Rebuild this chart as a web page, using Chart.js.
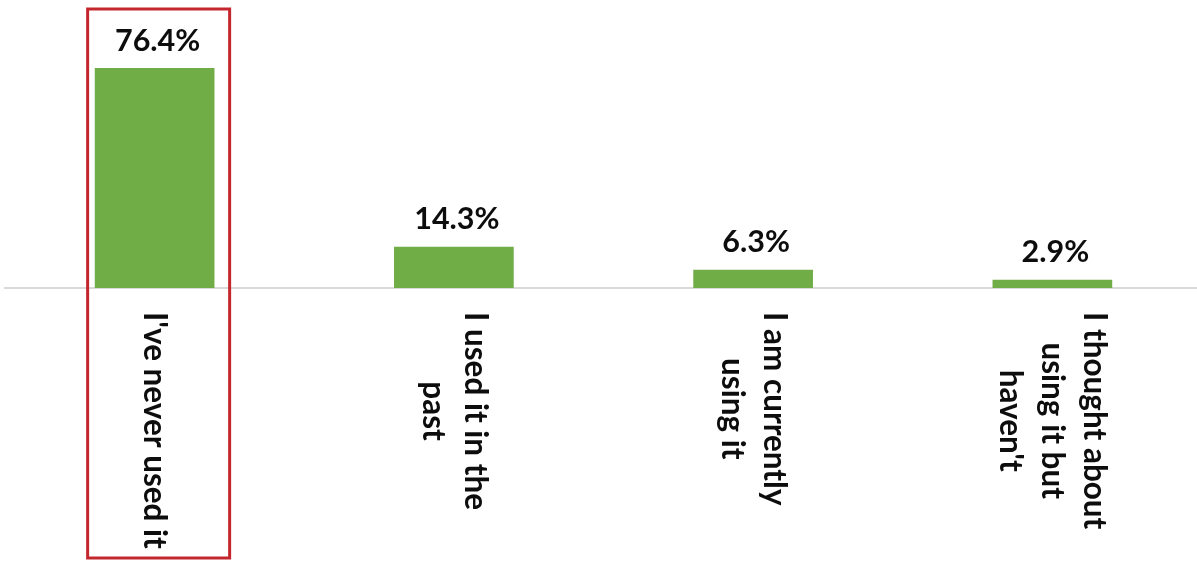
<!DOCTYPE html>
<html>
<head>
<meta charset="utf-8">
<title>Usage survey</title>
<script src="https://cdn.jsdelivr.net/npm/chart.js@4/dist/chart.umd.min.js"></script>
<style>
  html, body { margin: 0; padding: 0; background: #fff; overflow: hidden; }
  #wrap { position: relative; width: 1202px; height: 562px; }
</style>
</head>
<body>
<div id="wrap"><canvas id="usageChart"></canvas></div>
<script>
// Survey answers (each category is split into the lines shown under the bar)
const categories = [
  ["I've never used it"],
  ["I used it in the", "past"],
  ["I am currently", "using it"],
  ["I thought about", "using it but", "haven't"],
];
const shares = [76.4, 14.3, 6.3, 2.9];

// Which answer gets the red outline
const HIGHLIGHT = 0;

const BAR_COLOR = "#70ad47";
const TEXT_COLOR = "#0d0d0d";
const LABEL_FONT = "bold 31.5px Lato";
const VALUE_FONT = "bold 30.5px Lato";

// Percent values above each bar
const valueLabels = {
  id: "valueLabels",
  afterDatasetsDraw(chart) {
    const { ctx } = chart;
    const meta = chart.getDatasetMeta(0);
    ctx.save();
    ctx.font = VALUE_FONT;
    ctx.fillStyle = TEXT_COLOR;
    ctx.textAlign = "center";
    ctx.textBaseline = "bottom";
    meta.data.forEach((bar, i) => {
      ctx.fillText(shares[i].toFixed(1) + "%", bar.x + 3, bar.y - 12);
    });
    ctx.restore();
  },
};

// Category names, rotated to read top to bottom, lines centred on each other
const categoryLabels = {
  id: "categoryLabels",
  afterDraw(chart) {
    const { ctx, chartArea } = chart;
    const xScale = chart.scales.x;
    const lineHeight = 42;
    const top = chartArea.bottom + 24;
    ctx.save();
    ctx.font = LABEL_FONT;
    ctx.fillStyle = TEXT_COLOR;
    ctx.textAlign = "center";
    ctx.textBaseline = "middle";
    categories.forEach((lines, i) => {
      const x = xScale.getPixelForValue(i);
      const longest = Math.max(...lines.map((l) => ctx.measureText(l).width));
      ctx.save();
      ctx.translate(x, top);
      ctx.rotate(Math.PI / 2);
      lines.forEach((line, j) => {
        const offset = (j - (lines.length - 1) / 2) * lineHeight;
        ctx.fillText(line, longest / 2, offset);
      });
      ctx.restore();
    });
    ctx.restore();
  },
};

// Red box around the highlighted answer
const highlightBox = {
  id: "highlightBox",
  afterDraw(chart) {
    const { ctx } = chart;
    const x = chart.scales.x.getPixelForValue(HIGHLIGHT);
    ctx.save();
    ctx.strokeStyle = "#c4262e";
    ctx.lineWidth = 3;
    ctx.strokeRect(x - 67, 9, 142, 549);
    ctx.restore();
  },
};

new Chart(document.getElementById("usageChart"), {
  type: "bar",
  data: {
    labels: categories.map((c) => c.join(" ")),
    datasets: [
      {
        data: shares,
        backgroundColor: BAR_COLOR,
        borderWidth: 0,
        barPercentage: 0.4,
        categoryPercentage: 1,
      },
    ],
  },
  options: {
    responsive: true,
    maintainAspectRatio: false,
    animation: false,
    layout: {
      padding: { left: 5, right: 0, top: 0, bottom: 274 },
    },
    plugins: {
      legend: { display: false },
      tooltip: { enabled: false },
    },
    scales: {
      x: {
        grid: { display: false, drawTicks: false },
        ticks: { display: false },
        border: { color: "#d9d9d9", width: 2 },
      },
      y: {
        display: false,
        min: 0,
        max: 100,
      },
    },
  },
  plugins: [valueLabels, categoryLabels, highlightBox],
});
</script>
</body>
</html>
